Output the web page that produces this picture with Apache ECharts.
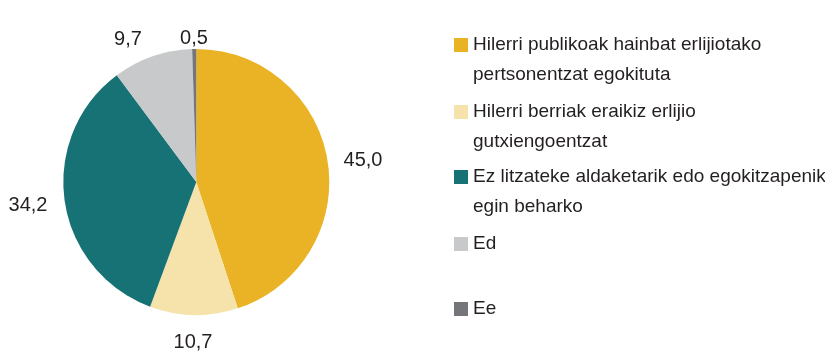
<!DOCTYPE html>
<html>
<head>
<meta charset="utf-8">
<script src="https://cdn.jsdelivr.net/npm/echarts@6/dist/echarts.min.js"></script>
<style>
  html, body { margin: 0; padding: 0; background: #fff; }
  #chart { width: 825px; height: 352px; }
</style>
</head>
<body>
<div id="chart"></div>
<script>
// Answer categories (legend text, line breaks as printed)
const categories = [
  'Hilerri publikoak hainbat erlijiotako\npertsonentzat egokituta',
  'Hilerri berriak eraikiz erlijio\ngutxiengoentzat',
  'Ez litzateke aldaketarik edo egokitzapenik\negin beharko',
  'Ed',
  'Ee'
];
// Share of answers (%)
const values = [45.0, 10.7, 34.2, 9.7, 0.5];
// Slice colours
const colors = ['#E9B325', '#F5E3AB', '#177275', '#C8C9CB', '#75767A'];

// Where each value label sits (centre of the text)
const labelSpots = [[363, 160], [193, 342], [28, 205], [128, 39], [194, 38]];
// Vertical position of each legend entry's swatch (top edge)
const legendSwatchTop = [38, 105, 170, 237, 302];

const FONT = '"Liberation Sans", Arial, sans-serif';
const INK = '#231F20';

const chart = echarts.init(document.getElementById('chart'), null, { renderer: 'canvas' });

const legends = categories.map((name, i) => {
  const twoLines = name.indexOf('\n') >= 0;
  return {
    data: [name],
    left: 454,
    // legend text is centred on the swatch; a leading blank line keeps the
    // swatch level with the first line of two-line entries
    top: legendSwatchTop[i] - (twoLines ? 38 : 8),
    orient: 'vertical',
    padding: 0,
    icon: 'rect',
    itemWidth: 14,
    itemHeight: 14,
    selectedMode: false,
    formatter: n => (twoLines ? '\n' + n : n),
    textStyle: {
      fontFamily: FONT,
      fontSize: 19,
      color: INK,
      lineHeight: 30
    }
  };
});

chart.setOption({
  animation: false,
  color: colors,
  legend: legends,
  series: [{
    type: 'pie',
    center: [196.3, 182],
    radius: 133,
    startAngle: 90,
    clockwise: true,
    avoidLabelOverlap: false,
    itemStyle: { borderWidth: 0 },
    emphasis: { disabled: true },
    label: {
      show: true,
      position: 'outside',
      fontFamily: FONT,
      fontSize: 20,
      color: INK,
      formatter: p => p.value.toFixed(1).replace('.', ',')
    },
    labelLine: { show: false },
    labelLayout: p => ({
      x: labelSpots[p.dataIndex][0],
      y: labelSpots[p.dataIndex][1],
      align: 'center',
      verticalAlign: 'middle'
    }),
    data: categories.map((name, i) => ({ name, value: values[i] }))
  }]
});
</script>
</body>
</html>
